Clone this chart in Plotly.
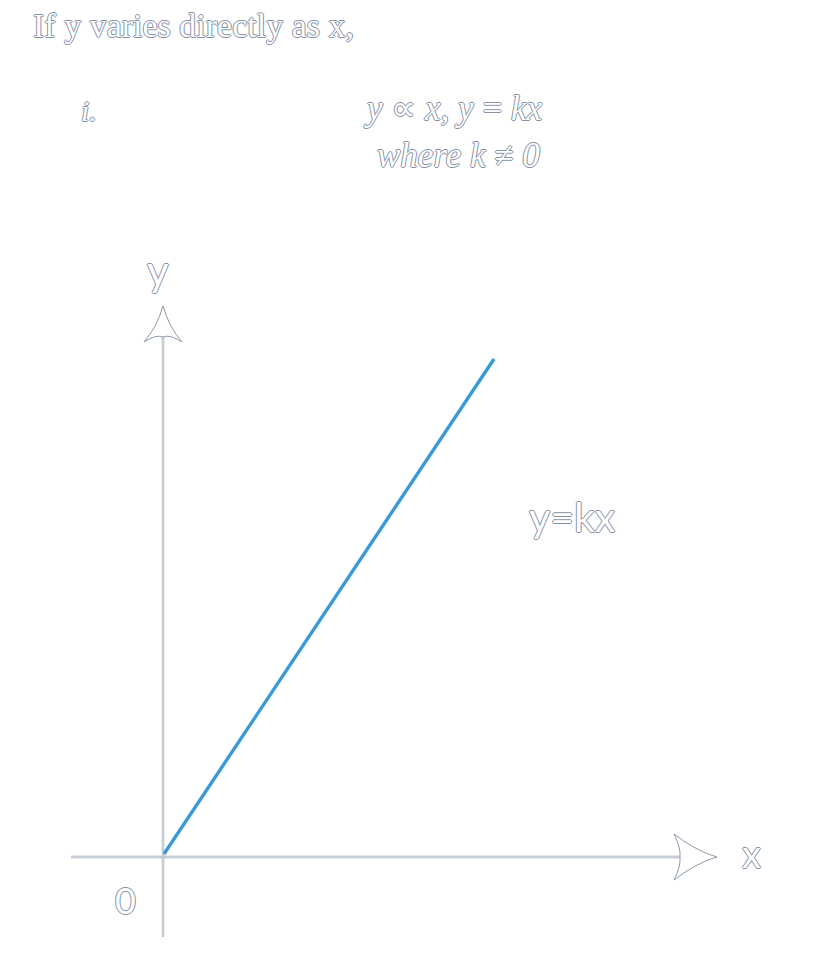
import plotly.graph_objects as go

# ---- data ----
k = 1.5
x_vals = [0.0, 3.3]
y_vals = [k * v for v in x_vals]

title_text = "If y varies directly as x,"
item_label = "<i>i.</i>"
eq_line1 = "<i>y</i> ∝ <i>x</i>, <i>y</i> = <i>kx</i>"
eq_line2 = "<i>where k</i> ≠ <i>0</i>"
y_axis_label = "y"
x_axis_label = "x"
origin_label = "0"
line_label = "y=kx"

# ---- geometry (page is 828 x 959 px, 100 px per unit) ----
W, H = 828, 959
PAD = 8  # page body margin
OX, OY = 164 - PAD, 854 - PAD  # origin position inside the figure
X0 = -OX / 100
X1 = (W - OX) / 100
Y0 = -(H - OY) / 100
Y1 = OY / 100


def px(x):
    return X0 + (x - PAD) / 100


def py(y):
    return Y1 - (y - PAD) / 100


OUT = "#8491a8"
shadow = f"1px 0 0 {OUT}, -1px 0 0 {OUT}, 0 1px 0 {OUT}, 0 -1px 0 {OUT}"

fig = go.Figure()


def axis_line(x_a, y_a, x_b, y_b):
    fig.add_shape(type="line", x0=px(x_a), y0=py(y_a), x1=px(x_b), y1=py(y_b),
                  line=dict(color="#9aa5b6", width=2.4), layer="below")
    fig.add_shape(type="line", x0=px(x_a), y0=py(y_a), x1=px(x_b), y1=py(y_b),
                  line=dict(color="#f2f6fa", width=1), layer="below")

axis_line(71, 857, 682, 857)
axis_line(163, 937, 163, 335)


def path(cmds):
    out = []
    for c in cmds:
        if isinstance(c, str):
            out.append(c)
        else:
            out.append(f"{px(c[0]):.4f},{py(c[1]):.4f}")
    return " ".join(out)

up = path(["M", (163, 306), "Q", (169, 327), (182, 342), "Q", (170, 334), (163, 337),
           "Q", (156, 334), (144, 342), "Q", (157, 327), (163, 306), "Z"])
fig.add_shape(type="path", path=up, fillcolor="white", line=dict(color="#8d99ab", width=1))
rt = path(["M", (717, 857), "Q", (696, 863), (674, 880), "Q", (681, 866), (680, 857),
           "Q", (681, 848), (674, 834), "Q", (696, 851), (717, 857), "Z"])
fig.add_shape(type="path", path=rt, fillcolor="white", line=dict(color="#8d99ab", width=1))

# the line y = kx
fig.add_trace(go.Scatter(x=x_vals, y=y_vals, mode="lines",
                         line=dict(color="#3a9ad6", width=3.4), hoverinfo="skip"))


def label(text, x, y, size, family, xanchor="center"):
    fig.add_annotation(x=px(x), y=py(y), text=text, showarrow=False, xanchor=xanchor,
                       yanchor="middle",
                       font=dict(size=size, family=family, color="white", shadow=shadow))

label(title_text, 31, 25, 34, "Liberation Serif", xanchor="left")
label(item_label, 89, 110, 30, "Liberation Serif")
label(eq_line1, 453, 108, 35, "Liberation Serif")
label(eq_line2, 458, 155, 35, "Liberation Serif")
label(y_axis_label, 158, 270, 42, "Lato")
label(line_label, 572, 516, 41, "Lato")
label(x_axis_label, 751, 853, 38, "Lato")
label(origin_label, 125, 900, 36, "Lato")

fig.update_layout(
    width=W, height=H,
    margin=dict(l=0, r=0, t=0, b=0),
    paper_bgcolor="white", plot_bgcolor="white",
    showlegend=False,
    xaxis=dict(range=[X0, X1], visible=False, fixedrange=True),
    yaxis=dict(range=[Y0, Y1], visible=False, fixedrange=True),
)

fig.write_html("out.html")
